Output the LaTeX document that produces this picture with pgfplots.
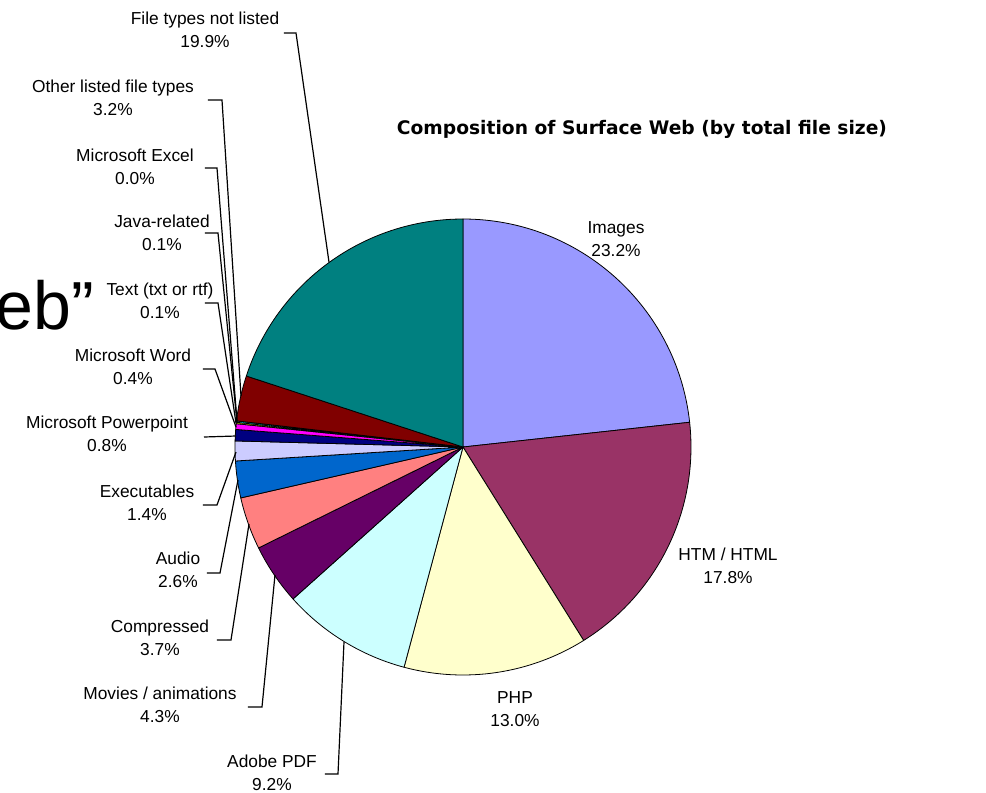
\documentclass[border=0pt]{standalone}
\usepackage{fontspec}
\setmainfont{Liberation Sans}
\newfontfamily\titlefont{DejaVu Sans}
\usepackage{pgfplots}
\usepackage{pgfplotstable}
\pgfplotsset{compat=1.18}
\tikzset{lbl/.style={font=\fontsize{13}{17.5}\selectfont, align=center, inner sep=0pt}}

\definecolor{s0}{HTML}{9999FF}
\definecolor{s1}{HTML}{993366}
\definecolor{s2}{HTML}{FFFFCC}
\definecolor{s3}{HTML}{CCFFFF}
\definecolor{s4}{HTML}{660066}
\definecolor{s5}{HTML}{FF8080}
\definecolor{s6}{HTML}{0066CC}
\definecolor{s7}{HTML}{CCCCFF}
\definecolor{s8}{HTML}{000080}
\definecolor{s9}{HTML}{FF00FF}
\definecolor{s10}{HTML}{FFFF00}
\definecolor{s11}{HTML}{00FFFF}
\definecolor{s12}{HTML}{800080}
\definecolor{s13}{HTML}{800000}
\definecolor{s14}{HTML}{008080}

% slices clockwise from 12 o'clock
\pgfplotstableread[col sep=comma]{
label,value
Images,23.2
HTM / HTML,17.8
PHP,13.0
Adobe PDF,9.2
Movies / animations,4.3
Compressed,3.7
Audio,2.6
Executables,1.4
Microsoft Powerpoint,0.8
Microsoft Word,0.4
Text (txt or rtf),0.1
Java-related,0.1
Microsoft Excel,0.0
Other listed file types,3.2
File types not listed,19.9
}\piedata

\def\pietotal{0}%
\pgfplotsforeachungrouped \i in {0,...,14}{%
  \pgfplotstablegetelem{\i}{value}\of\piedata
  \pgfmathsetmacro{\pietotal}{\pietotal+\pgfplotsretval}%
}%
\def\piecum{0}%
\pgfplotsforeachungrouped \i in {0,...,14}{%
  \pgfplotstablegetelem{\i}{value}\of\piedata
  \pgfmathsetmacro{\pieA}{90-\piecum/\pietotal*360}%
  \pgfmathsetmacro{\piecum}{\piecum+\pgfplotsretval}%
  \pgfmathsetmacro{\pieB}{90-\piecum/\pietotal*360}%
  \expandafter\xdef\csname sa\i\endcsname{\pieA}%
  \expandafter\xdef\csname sb\i\endcsname{\pieB}%
}%

\begin{document}
\begin{tikzpicture}
\begin{axis}[
  width=739.5pt, height=594.75pt, scale only axis,
  xmin=0, xmax=986, ymin=0, ymax=793, y dir=reverse,
  axis lines=none, clip=false,
]
% pie slices
\pgfplotsinvokeforeach{0,...,14}{
  \filldraw[fill=s#1, draw=black, line width=0.6pt, line join=round]
    (axis cs:463,447) -- ++(\csname sa#1\endcsname:171pt)
    arc[start angle=\csname sa#1\endcsname, end angle=\csname sb#1\endcsname, radius=171pt] -- cycle;
}
% leader lines
\draw[line width=0.9pt] (axis cs:284,33) -- (axis cs:296,33) -- (axis cs:329,262);
\draw[line width=0.9pt] (axis cs:208,100) -- (axis cs:222,100) -- (axis cs:241,396);
\draw[line width=0.9pt] (axis cs:205,168) -- (axis cs:217,168) -- (axis cs:237,421);
\draw[line width=0.9pt] (axis cs:205,233) -- (axis cs:218,233) -- (axis cs:237,422);
\draw[line width=0.9pt] (axis cs:205,303) -- (axis cs:218,303) -- (axis cs:236,423);
\draw[line width=0.9pt] (axis cs:203,369) -- (axis cs:215,369) -- (axis cs:236,427);
\draw[line width=0.9pt] (axis cs:204,437) -- (axis cs:236,436);
\draw[line width=0.9pt] (axis cs:203,505) -- (axis cs:217,505) -- (axis cs:236,452);
\draw[line width=0.9pt] (axis cs:207,573) -- (axis cs:220,573) -- (axis cs:238,480);
\draw[line width=0.9pt] (axis cs:217,640) -- (axis cs:231,640) -- (axis cs:249,524);
\draw[line width=0.9pt] (axis cs:248,707) -- (axis cs:262,707) -- (axis cs:275,575);
\draw[line width=0.9pt] (axis cs:325,774) -- (axis cs:338,774) -- (axis cs:344,642);
% labels
\node[lbl] at (axis cs:205,30) {File types not listed\\19.9\%};
\node[lbl] at (axis cs:113,98) {Other listed file types\\3.2\%};
\node[lbl] at (axis cs:135,167) {Microsoft Excel\\0.0\%};
\node[lbl] at (axis cs:162,233) {Java-related\\0.1\%};
\node[lbl] at (axis cs:160,301) {Text (txt or rtf)\\0.1\%};
\node[lbl] at (axis cs:133,367) {Microsoft Word\\0.4\%};
\node[lbl] at (axis cs:107,434) {Microsoft Powerpoint\\0.8\%};
\node[lbl] at (axis cs:147,503) {Executables\\1.4\%};
\node[lbl] at (axis cs:178,570) {Audio\\2.6\%};
\node[lbl] at (axis cs:160,638) {Compressed\\3.7\%};
\node[lbl] at (axis cs:160,705) {Movies / animations\\4.3\%};
\node[lbl] at (axis cs:272,773) {Adobe PDF\\9.2\%};
\node[lbl] at (axis cs:616,239) {Images\\23.2\%};
\node[lbl] at (axis cs:728,566) {HTM / HTML\\17.8\%};
\node[lbl] at (axis cs:515,709) {PHP\\13.0\%};
% title
\node[font=\titlefont\bfseries\fontsize{14}{16}\selectfont, inner sep=0pt] at (axis cs:642,129) {Composition of Surface Web (by total file size)};
% fragment of slide title
\node[font=\fontsize{51}{55}\selectfont, anchor=base east, inner sep=0pt] at (axis cs:94,329) {Surface Web”};
\end{axis}
\pgfresetboundingbox
\useasboundingbox (current axis.south west) rectangle (current axis.north east);
\end{tikzpicture}
\end{document}
